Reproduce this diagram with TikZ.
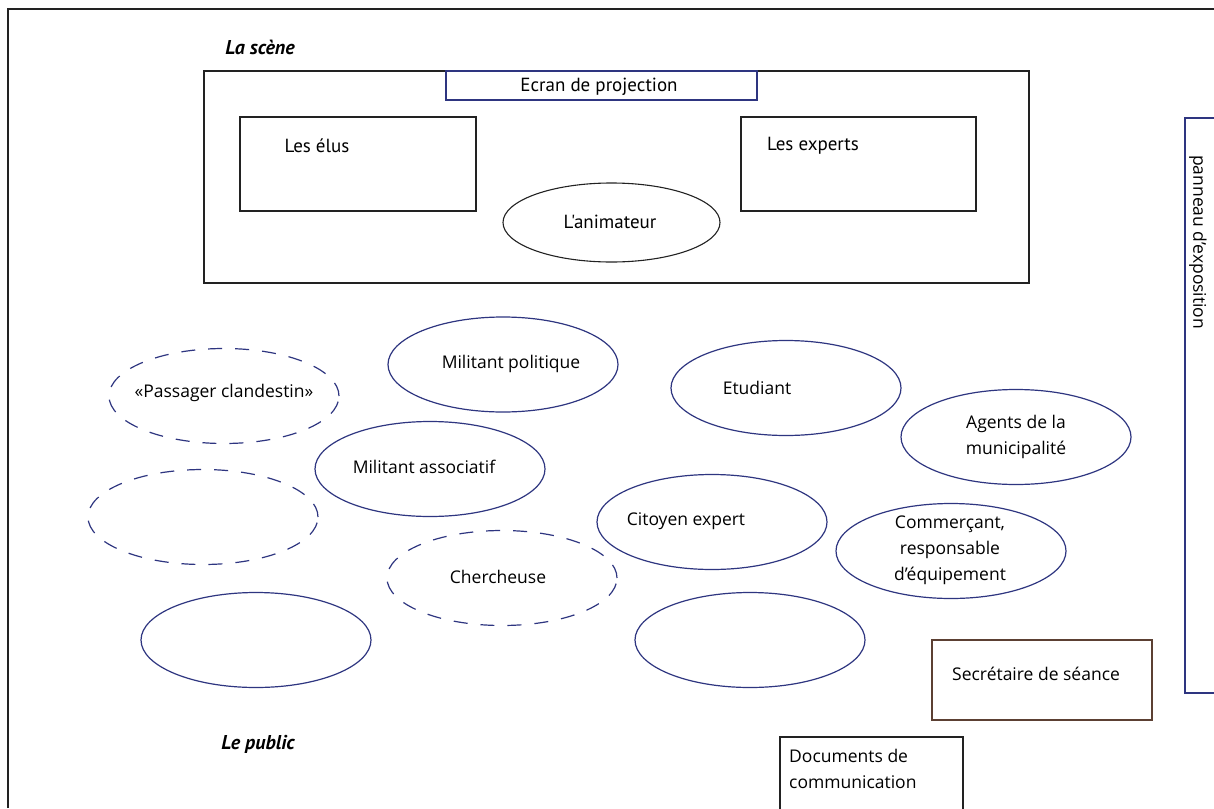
\documentclass[tikz,border=0pt]{standalone}
\usepackage{fontspec}
\setmainfont{Open Sans}
\newfontfamily\condfont{PT Sans}
\usetikzlibrary{shapes.geometric}
\definecolor{navy}{HTML}{2E3580}
\definecolor{brownb}{HTML}{5C4033}
\definecolor{dgray}{HTML}{222222}
\tikzset{
  pub/.style={ellipse, draw=navy, line width=1.2pt, minimum width=230pt, minimum height=95pt, inner sep=0pt},
  pubdash/.style={pub, dash pattern=on 14pt off 13pt},
  txt/.style={font=\fontsize{17.5}{26}\selectfont, text=black, inner sep=0pt, align=center},
  stxt/.style={font=\condfont\fontsize{19}{22}\selectfont, text=black, inner sep=0pt},
  box/.style={draw=dgray, line width=1.1pt},
  ttl/.style={font=\condfont\bfseries\itshape\fontsize{20}{22}\selectfont, inner sep=0pt}
}
\begin{document}
\begin{tikzpicture}[x=1pt,y=-1pt]
\useasboundingbox (0,0) rectangle (1214,808);
\fill[white] (0,0) rectangle (1214,808);
% outer frame
\draw[dgray, line width=1.1pt] (8,808) -- (8,9) -- (1214,9);
% stage
\node[ttl] (scene) at (260,47) {La scène};
\draw[box] (204,71) rectangle (1029,283);
\node[box, draw=navy, minimum width=311pt, minimum height=29pt, inner sep=0pt] (ecran) at (601.5,85.5) {};
\node[stxt] (ecrant) at (599,87) {Ecran de projection};
\draw[box] (240,117) rectangle (476,211);
\node[stxt] (elus) at (317,146) {Les élus};
\draw[box] (741,117) rectangle (976,211);
\node[stxt] (experts) at (813,146) {Les experts};
\node[ellipse, draw=dgray, line width=1.1pt, minimum width=217pt, minimum height=79pt, inner sep=0pt] (anim) at (611.5,222.5) {};
\node[stxt] (animt) at (610,222) {L'animateur};
% panel
\draw[navy, line width=1.2pt] (1216,118) -- (1185,118) -- (1185,693) -- (1216,693);
\node[font=\fontsize{17.5}{20}\selectfont, rotate=-90, anchor=west, inner sep=0pt] (panneau) at (1198,155) {panneau d'exposition};
% public ellipses
\node[pubdash] (pass) at (224,396) {};
\node[txt] (passt) at (224,393) {«Passager clandestin»};
\node[pub] (mpol) at (503,364.5) {};
\node[txt] (mpolt) at (511,364) {Militant politique};
\node[pub] (etu) at (786,388) {};
\node[txt] (etut) at (757,388) {Etudiant};
\node[pub] (agents) at (1016,437) {};
\node[txt] (agentst) at (1016,437) {Agents de la\\municipalité};
\node[pub] (mass) at (430,469) {};
\node[txt] (masst) at (424,467) {Militant associatif};
\node[pubdash] (vide1) at (203,517) {};
\node[pub] (cit) at (712,522) {};
\node[txt] (citt) at (686,521) {Citoyen expert};
\node[pub] (comm) at (951,551) {};
\node[txt] (commt) at (950,550) {Commerçant,\\responsable\\d'équipement};
\node[pubdash] (cherch) at (502,578) {};
\node[txt] (cherct) at (498,577) {Chercheuse};
\node[pub] (vide2) at (256,640) {};
\node[pub] (vide3) at (750,640) {};
% secretary
\draw[brownb, line width=1.1pt] (932,640) rectangle (1152,720);
\node[txt, anchor=west] (secr) at (952,674) {Secrétaire de séance};
% documents
\draw[box] (780,810) -- (780,737) -- (963,737) -- (963,810);
\node[txt, anchor=north west, align=left] (docs) at (789,749) {Documents de\\communication};
\node[ttl] (public) at (258,744) {Le public};
\end{tikzpicture}
\end{document}
